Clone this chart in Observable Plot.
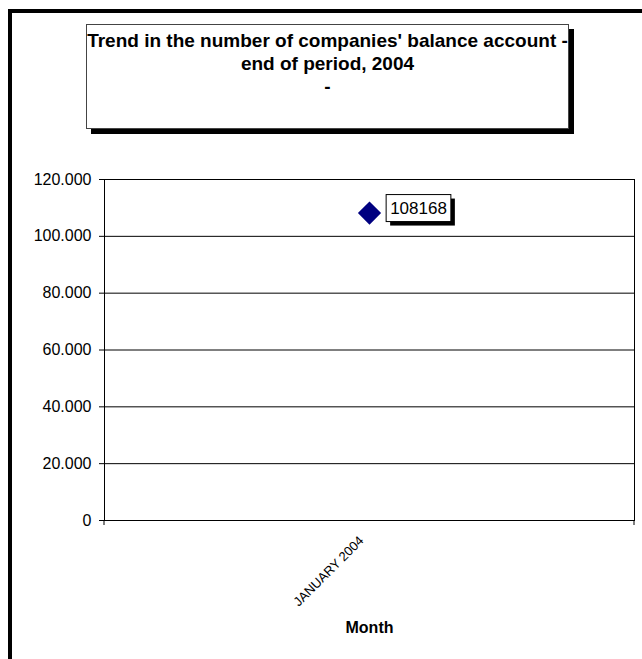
<!DOCTYPE html>
<html>
<head>
<meta charset="utf-8">
<script src="https://cdn.jsdelivr.net/npm/d3@7"></script>
<script src="https://cdn.jsdelivr.net/npm/@observablehq/plot@0.6"></script>
<style>
  body { margin: 0; background: #fff; }
  #wrap { position: relative; width: 642px; height: 659px; overflow: hidden; background: #fff;
          font-family: "Liberation Sans", Arial, Helvetica, sans-serif; }
  #outer { position: absolute; left: 8px; top: 9px; width: 1000px; height: 1000px;
           border-left: 4px solid #000; border-top: 4px solid #000; box-sizing: border-box; }
  #title { position: absolute; left: 86px; top: 24px; width: 483px; height: 105px; box-sizing: border-box;
           border: 1px solid #444; background: #fff; box-shadow: 5px 5px 0 #000;
           text-align: center; font-weight: bold; font-size: 19px; line-height: 23px; padding-top: 4px; color: #000; z-index: 2; }
  #chart { position: absolute; left: 0; top: 0; z-index: 1; }
</style>
</head>
<body>
<div id="wrap">
  <div id="chart"></div>
  <div id="outer"></div>
  <div id="title">Trend in the number of companies' balance account -<br>end of period, 2004<br>-</div>
</div>
<script>
const months = ["JANUARY 2004"];
const balanceAccounts = [108168];
const yTicks = [0, 20000, 40000, 60000, 80000, 100000, 120000];
const xTitle = "Month";

const data = months.map((m, i) => ({month: m, value: balanceAccounts[i]}));
const fmt = d3.formatLocale({decimal: ",", thousands: ".", grouping: [3], currency: ["", ""]}).format(",");

const chart = Plot.plot({
  width: 642,
  height: 659,
  marginLeft: 104,
  marginRight: 8,
  marginTop: 179,
  marginBottom: 139,
  style: {fontFamily: '"Liberation Sans", Arial, Helvetica, sans-serif', background: "transparent", color: "#000"},
  x: {type: "band", domain: months, padding: 0},
  y: {domain: [0, 120000]},
  marks: [
    Plot.gridY(yTicks, {stroke: "#000", strokeOpacity: 1}),
    Plot.frame({stroke: "#000"}),
    Plot.axisY({ticks: yTicks, tickFormat: fmt, tickSize: 5, tickPadding: 8, fontSize: 16, label: null}),
    Plot.axisX({tickSize: 0, tickRotate: -45, tickPadding: 18, dx: -8, fontSize: 13, label: null}),
    Plot.text([xTitle], {text: d => d, frameAnchor: "bottom", dy: 112, fontSize: 16, fontWeight: "bold"}),
    Plot.dot(data, {x: "month", y: "value", symbol: "diamond2", r: 9.5, fill: "#000080", stroke: "#000080"}),
    Plot.text(data, {x: "month", y: "value", text: d => String(d.value), dx: 49, dy: -5, fontSize: 17})
  ]
});

document.getElementById("chart").appendChild(chart);

// category-boundary ticks on the x axis (Excel style)
const xs = chart.scale("x");
const ys = chart.scale("y");
const y0 = ys.apply(0);
const g = d3.select(chart).append("g").attr("stroke", "#000");
months.forEach(m => {
  const a = xs.apply(m);
  [a, a + xs.bandwidth].forEach(px => {
    g.append("line").attr("x1", px).attr("x2", px).attr("y1", y0).attr("y2", y0 + 5);
  });
});

// boxed data labels with shadow
const labelTexts = new Set(data.map(d => String(d.value)));
const ns = "http://www.w3.org/2000/svg";
Array.from(chart.querySelectorAll("text")).filter(t => labelTexts.has(t.textContent)).forEach(t => {
  const bb = t.getBBox();
  const pad = 4;
  const parent = t.parentNode;
  const tf = t.getAttribute("transform");
  const tx = t.getAttribute("x"), ty = t.getAttribute("y");
  const mk = (dx, dy, fill, stroke) => {
    const r = document.createElementNS(ns, "rect");
    r.setAttribute("x", bb.x - pad + dx);
    r.setAttribute("y", bb.y - pad + dy);
    r.setAttribute("width", bb.width + 2 * pad);
    r.setAttribute("height", bb.height + 2 * pad);
    r.setAttribute("fill", fill);
    r.setAttribute("stroke", stroke);
    if (tf) r.setAttribute("transform", tf);
    parent.insertBefore(r, t);
  };
  mk(4, 4, "#000", "none");
  mk(0, 0, "#fff", "#000");
});
</script>
</body>
</html>
